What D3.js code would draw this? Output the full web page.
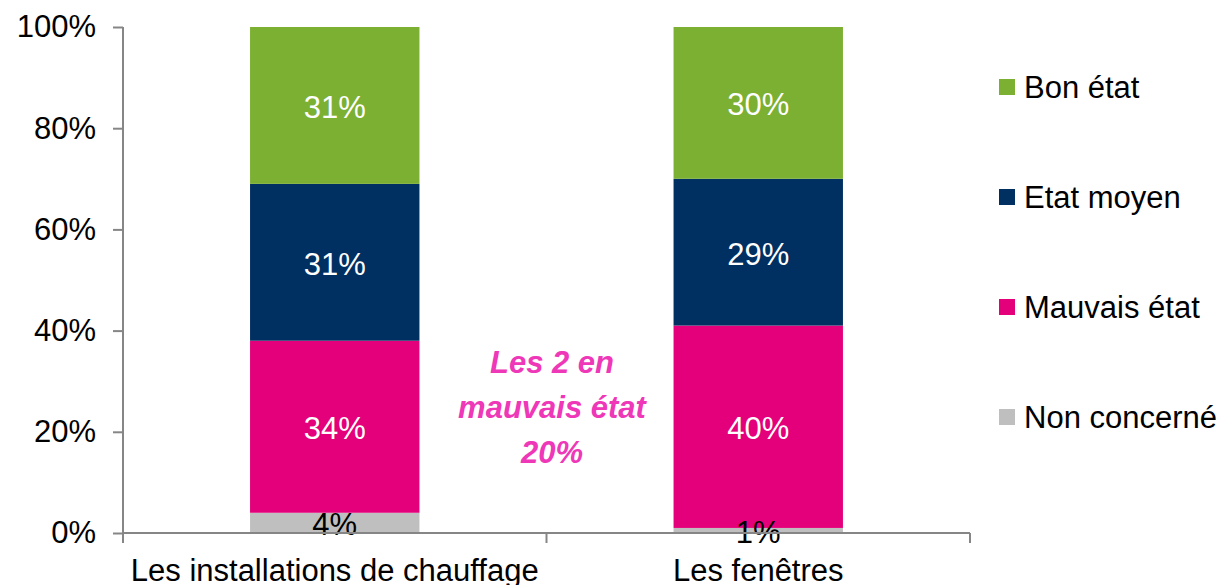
<!DOCTYPE html>
<html lang="fr">
<head>
<meta charset="utf-8">
<script src="https://d3js.org/d3.v7.min.js"></script>
<style>
  body { margin: 0; background: #fff; }
  text { font-family: "Liberation Sans", Arial, sans-serif; }
</style>
</head>
<body>
<script>
var width = 1225;
var height = 585;

// data
var categories = ["Les installations de chauffage", "Les fenêtres"];
var series = ["Non concerné", "Mauvais état", "Etat moyen", "Bon état"];
var nonConcerne = [4, 1];
var mauvais = [34, 40];
var moyen = [31, 29];
var bon = [31, 30];
var yTicks = [0, 20, 40, 60, 80, 100];
var noteLines = ["Les 2 en", "mauvais état", "20%"];

var colours = {
  "Non concerné": "#bfbfbf",
  "Mauvais état": "#e3007a",
  "Etat moyen": "#002f62",
  "Bon état": "#7bb032"
};
var labelColours = {
  "Non concerné": "#000",
  "Mauvais état": "#fff",
  "Etat moyen": "#fff",
  "Bon état": "#fff"
};
var fontSize = 31;

// table for the stack
var rows = categories.map(function (c, i) {
  return {
    cat: c,
    "Non concerné": nonConcerne[i],
    "Mauvais état": mauvais[i],
    "Etat moyen": moyen[i],
    "Bon état": bon[i]
  };
});
var stacked = d3.stack().keys(series)(rows);

var plotLeft = 123, plotRight = 970, plotTop = 27, plotBottom = 533;

var x = d3.scaleBand().domain(categories).range([plotLeft, plotRight]).paddingInner(0.6).paddingOuter(0.3);
var xOuter = d3.scaleBand().domain(categories).range([plotLeft, plotRight]);
var y = d3.scaleLinear().domain([0, 100]).range([plotBottom, plotTop]);

var svg = d3.select("body").append("svg")
  .attr("width", width)
  .attr("height", height);

// bars
var groups = svg.selectAll("g.layer")
  .data(stacked)
  .enter().append("g")
  .attr("class", "layer")
  .attr("fill", function (d) { return colours[d.key]; });

groups.selectAll("rect")
  .data(function (d) { return d; })
  .enter().append("rect")
  .attr("x", function (d) { return x(d.data.cat); })
  .attr("width", x.bandwidth())
  .attr("y", function (d) { return y(d[1]); })
  .attr("height", function (d) { return y(d[0]) - y(d[1]); });

// value labels
stacked.forEach(function (layer) {
  svg.selectAll(null)
    .data(layer)
    .enter().append("text")
    .attr("x", function (d) { return x(d.data.cat) + x.bandwidth() / 2; })
    .attr("y", function (d) {
      var c = (y(d[0]) + y(d[1])) / 2;
      return layer.key === "Non concerné" ? Math.max(c, 523) : c;
    })
    .attr("dy", "0.4em")
    .attr("text-anchor", "middle")
    .attr("font-size", fontSize)
    .attr("fill", labelColours[layer.key])
    .text(function (d) { return (d[1] - d[0]) + "%"; });
});

// y axis
var yAxis = d3.axisLeft(y)
  .tickValues(yTicks)
  .tickSize(10)
  .tickPadding(17)
  .tickFormat(function (d) { return d + "%"; });

var gy = svg.append("g")
  .attr("transform", "translate(" + plotLeft + ",0)")
  .call(yAxis);
gy.selectAll("path, line").attr("stroke", "#868686").attr("stroke-width", 2);
gy.select(".domain").attr("d", "M0," + plotTop + "V" + plotBottom);
gy.selectAll("text").attr("font-size", fontSize).attr("fill", "#000")
  .style("font-family", "'Liberation Sans', Arial, sans-serif");

// x axis
var gx = svg.append("g").attr("transform", "translate(0," + plotBottom + ")");
gx.append("line")
  .attr("x1", plotLeft).attr("x2", plotRight)
  .attr("stroke", "#868686").attr("stroke-width", 2);
var edges = [plotLeft].concat(categories.map(function (c) { return xOuter(c) + xOuter.bandwidth(); }));
gx.selectAll("line.tick")
  .data(edges)
  .enter().append("line")
  .attr("class", "tick")
  .attr("x1", function (d) { return d; }).attr("x2", function (d) { return d; })
  .attr("y1", 0).attr("y2", 10)
  .attr("stroke", "#868686").attr("stroke-width", 2);
gx.selectAll("text")
  .data(categories)
  .enter().append("text")
  .attr("x", function (d) { return xOuter(d) + xOuter.bandwidth() / 2; })
  .attr("y", 48)
  .attr("text-anchor", "middle")
  .attr("font-size", fontSize)
  .attr("fill", "#000")
  .text(function (d) { return d; });

// annotation
svg.append("text")
  .attr("x", 552)
  .attr("y", 373)
  .attr("text-anchor", "middle")
  .attr("font-size", fontSize)
  .attr("font-weight", "bold")
  .attr("font-style", "italic")
  .attr("fill", "#ee38b7")
  .selectAll("tspan")
  .data(noteLines)
  .enter().append("tspan")
  .attr("x", 552)
  .attr("dy", function (d, i) { return i === 0 ? 0 : 45; })
  .text(function (d) { return d; });

// legend
var legendOrder = series.slice().reverse();
var legend = svg.selectAll("g.legend")
  .data(legendOrder)
  .enter().append("g")
  .attr("class", "legend")
  .attr("transform", function (d, i) { return "translate(999," + (79 + i * 110) + ")"; });
legend.append("rect")
  .attr("width", 16).attr("height", 16)
  .attr("fill", function (d) { return colours[d]; });
legend.append("text")
  .attr("x", 25)
  .attr("y", 8)
  .attr("dy", "0.35em")
  .attr("font-size", fontSize)
  .attr("fill", "#000")
  .text(function (d) { return d; });
</script>
</body>
</html>
